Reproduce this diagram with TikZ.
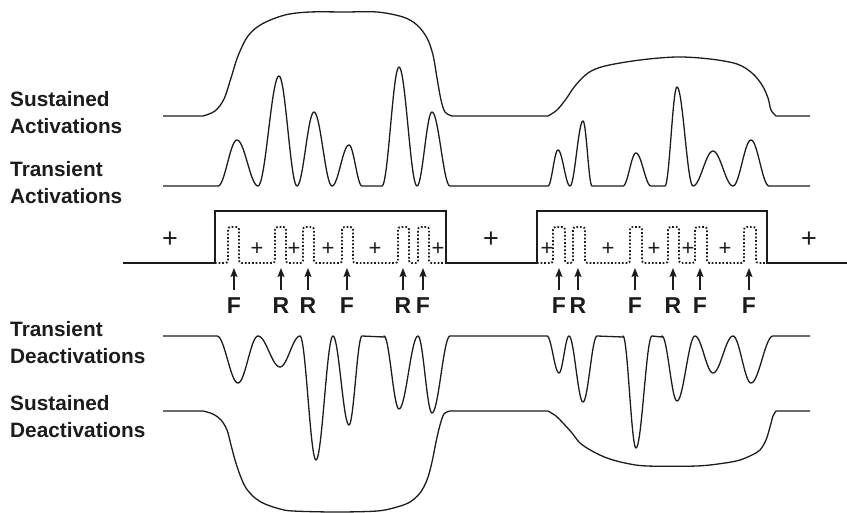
\documentclass[tikz,border=0pt]{standalone}
\usepackage{fontspec}
\setmainfont{Liberation Sans}
\usetikzlibrary{arrows.meta}
\definecolor{ink}{HTML}{1C1C1C}

% One raised-cosine bump on a trace: baseline, left foot, extremum, right foot, signed depth
\newcommand\bmp[5]{%
  -- plot[domain=#2:#3,samples=20] (\x,{#1+(#5)*(1-cos(180*(\x-#2)/(#3-#2)))/2})
  -- plot[domain=#3:#4,samples=20] (\x,{#1+(#5)*(1+cos(180*(\x-#3)/(#4-#3)))/2})}
% One dotted pulse of the stimulus trace: left and right edge
\newcommand\pls[2]{-- (#1,263) -- (#1,227) -- (#2,227) -- (#2,263)}

\tikzset{
  trace/.style={draw=ink,line width=1.3pt,line join=round},
  block/.style={draw=ink,line width=2pt},
  dotpulse/.style={draw=ink,line width=1.8pt,dash pattern=on 1.7pt off 1.9pt,rounded corners=2.5pt},
  arr/.style={draw=ink,line width=1.2pt,-{Stealth[length=9pt,width=7pt,inset=1.5pt]}},
  lab/.style={text=ink,inner sep=0pt,anchor=base west,font=\fontsize{20.8}{26}\selectfont\bfseries},
  ev/.style={text=ink,inner sep=0pt,anchor=base,font=\fontsize{23}{26}\selectfont\bfseries},
  bigplus/.style={text=ink,inner sep=0pt,font=\fontsize{27}{27}\selectfont},
  smallplus/.style={text=ink,inner sep=0pt,font=\fontsize{22}{22}\selectfont},
}

\begin{document}
\begin{tikzpicture}[x=1pt,y=-1pt]
\useasboundingbox (0,0) rectangle (847,513);

% row labels
\node[lab] (sa1) at (10,107) {Sustained};
\node[lab] (sa2) at (10,133.5) {Activations};
\node[lab] (ta1) at (10,177) {Transient};
\node[lab] (ta2) at (10,204) {Activations};
\node[lab] (td1) at (10,337) {Transient};
\node[lab] (td2) at (10,363.5) {Deactivations};
\node[lab] (sd1) at (10,410) {Sustained};
\node[lab] (sd2) at (10,437) {Deactivations};

% sustained activations
\draw[trace] (163,116) -- (203,116)
  plot[smooth,tension=0.55] coordinates {(203,116) (215,111) (224,99) (231,78) (238,56) (248,36) (262,24) (285,15) (310,12) (345,12) (377,12) (403,17) (417,25) (427,38) (433,55) (437,78) (441,100) (445,112) (452,116)}
  -- (548,116)
  plot[smooth,tension=0.55] coordinates {(548,116) (557,110) (566,99) (575,86) (588,73) (605,66) (640,60) (677,57) (710,59) (737,64) (752,73) (762,85) (768,98) (771,110) (776,116)}
  -- (810,116);

% transient activations
\draw[trace] (163,186) -- (218,186)
  \bmp{186}{218}{237}{258}{-46} \bmp{186}{258}{279}{297}{-110}
  \bmp{186}{297}{314}{332}{-74} \bmp{186}{332}{349}{362}{-41} -- (382,186)
  \bmp{186}{382}{399}{417}{-119} \bmp{186}{417}{432}{450}{-74} -- (548,186)
  \bmp{186}{548}{558}{570}{-36} \bmp{186}{570}{583}{592}{-65} -- (623,186)
  \bmp{186}{623}{636}{651}{-33} -- (665,186)
  \bmp{186}{665}{677}{693}{-99} \bmp{186}{693}{713}{733}{-35}
  \bmp{186}{733}{751}{769}{-46} -- (810,186);

% stimulus blocks
\draw[block] (123,263) -- (215,263) -- (215,211) -- (446,211) -- (446,263)
  -- (537,263) -- (537,211) -- (767,211) -- (767,263) -- (847,263);
\draw[dotpulse] (215,263) \pls{228}{239} \pls{275}{286} \pls{303}{314}
  \pls{342}{353} \pls{398}{409} \pls{418}{429} -- (446,263);
\draw[dotpulse] (537,263) \pls{553}{565} \pls{573}{585} \pls{630}{642}
  \pls{668}{679} \pls{695}{707} \pls{744}{756} -- (767,263);

% plus signs
\foreach \n/\px in {1/170,2/491,3/809}
  \node[bigplus] (bp\n) at (\px,240) {+};
\foreach \n/\px in {1/257,2/294,3/328,4/375,5/438,6/547,7/608,8/654,9/688,10/725}
  \node[smallplus] (sp\n) at (\px,249) {+};

% event markers
\foreach \n/\px/\t in {1/234/F,2/281/R,3/308/R,4/347/F,5/403/R,6/423/F,
                       7/559/F,8/578/R,9/635/F,10/673/R,11/700/F,12/749/F}{
  \node[ev] (ev\n) at (\px,314) {\t};
  \coordinate (tl\n) at (\px,290);
  \coordinate (hd\n) at (\px,268);
  \draw[arr] (tl\n) -- (hd\n);
}

% transient deactivations
\draw[trace] (163,336) -- (217,336)
  \bmp{336}{217}{238}{258}{47} \bmp{336}{258}{280}{300}{31}
  \bmp{336}{300}{316}{333}{124} \bmp{336}{333}{349}{362}{89} -- (384,337)
  \bmp{336}{384}{399}{418}{73} \bmp{336}{418}{432}{450}{77} -- (547,336)
  \bmp{336}{547}{559}{569}{37} \bmp{336}{569}{583}{597}{66} -- (623,337)
  \bmp{336}{623}{636}{652}{112} -- (662,337)
  \bmp{336}{662}{677}{695}{65} \bmp{336}{695}{713}{733}{37}
  \bmp{336}{733}{751}{773}{47} -- (810,336);

% sustained deactivations
\draw[trace] (163,411) -- (203,411)
  plot[smooth,tension=0.55] coordinates {(203,411) (213,414) (221,420) (227,430) (231,445) (235,460) (240,475) (246,488) (255,498) (265,504) (280,509) (293,511) (335,512) (377,511) (397,507) (410,502) (420,493) (427,480) (432,462) (436,442) (440,425) (444,414) (450,411)}
  -- (548,411)
  plot[smooth,tension=0.55] coordinates {(548,411) (556,416) (563,423) (572,433) (580,443) (592,451) (607,458) (625,463) (647,466) (697,466) (725,463) (740,460) (752,455) (760,450) (766,440) (770,427) (773,416) (776,411)}
  -- (810,411);
\end{tikzpicture}
\end{document}
